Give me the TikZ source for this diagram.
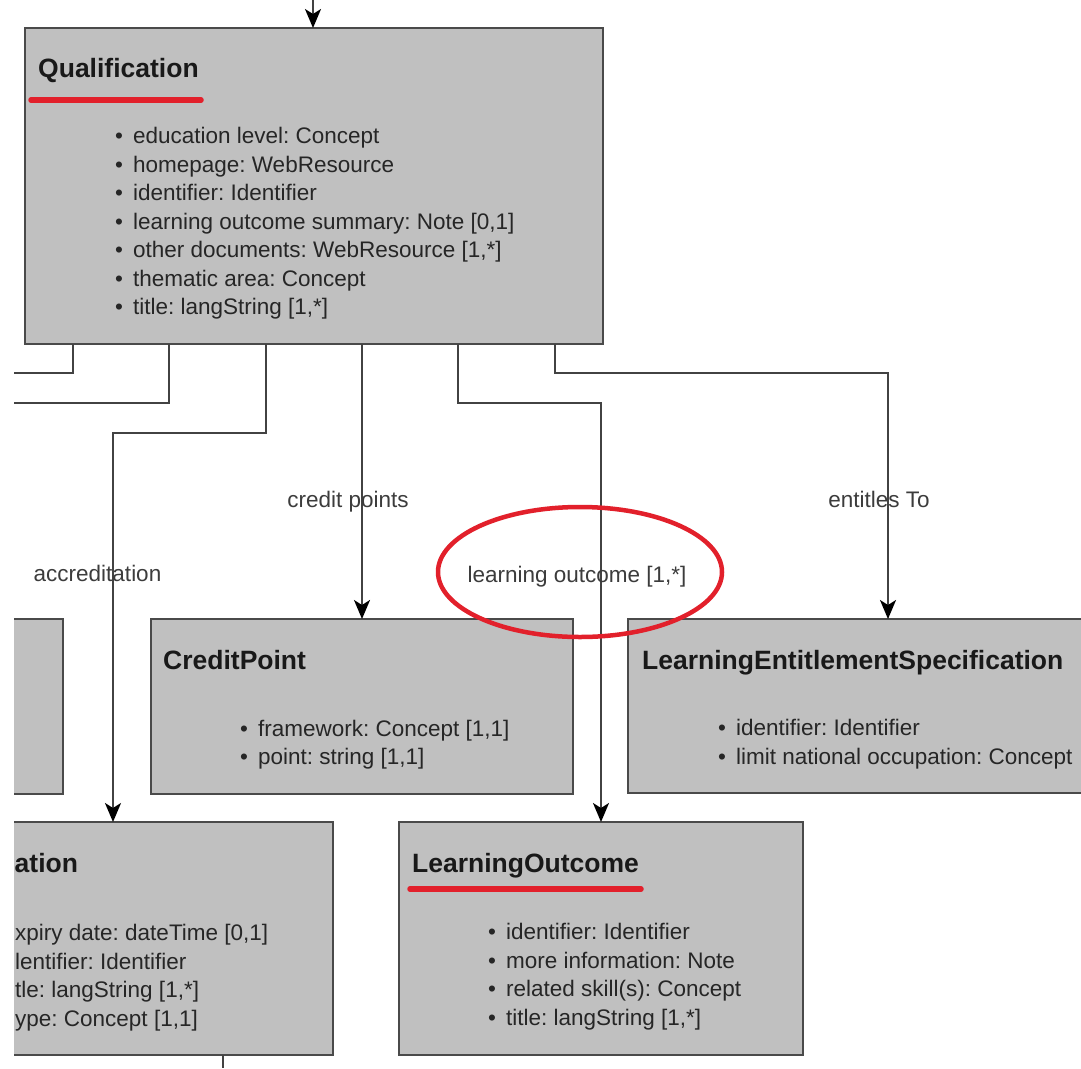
\documentclass[tikz,border=0pt]{standalone}
\usepackage{fontspec}
\setmainfont{Liberation Sans}
\usetikzlibrary{arrows.meta}
\definecolor{boxfill}{HTML}{C0C0C0}
\definecolor{boxline}{HTML}{4A4A4A}
\definecolor{linecol}{HTML}{424242}
\definecolor{markred}{HTML}{E2202B}
\definecolor{txt}{HTML}{262626}
\frenchspacing
\begin{document}
\begin{tikzpicture}[x=1pt,y=-1pt,
  cls/.style={draw=boxline, fill=boxfill, line width=2.4pt, anchor=north west, inner sep=0pt, outer sep=0pt},
  ttl/.style={anchor=base west, inner sep=0pt, font=\fontsize{26.5}{30}\selectfont\bfseries, text=black!90},
  itm/.style={anchor=base west, inner sep=0pt, font=\fontsize{22.5}{27}\selectfont, text=txt},
  lbl/.style={anchor=base, inner sep=0pt, font=\fontsize{22.5}{27}\selectfont, text=txt!90},
  conn/.style={draw=linecol, line width=2pt},
  arr/.style={conn, -{Stealth[length=19pt,width=16pt,inset=5pt,color=black]}},
  redmark/.style={draw=markred, line width=5.5pt, line cap=round},
]
\fill[white] (0,0) rectangle (1081,1068);
\useasboundingbox (0,0) rectangle (1081,1068);
\begin{scope}
\clip (14,0) rectangle (1081,1068);

% class boxes
\node[cls, minimum width=578pt, minimum height=316pt] (q) at (25,28) {};
\node[cls, minimum width=263pt, minimum height=175pt] (lft) at (-200,619) {};
\node[cls, minimum width=422pt, minimum height=175pt] (cp) at (151,619) {};
\node[cls, minimum width=520pt, minimum height=174pt] (les) at (628,619) {};
\node[cls, minimum width=440pt, minimum height=233pt] (acc) at (-107,822) {};
\node[cls, minimum width=404pt, minimum height=233pt] (lo) at (399,822) {};

% connectors
\coordinate (top) at (313,0);
\draw[arr] (top) -- (q.north -| top);
\coordinate (c1) at (73,373); \coordinate (e1) at (14,373);
\draw[conn] (q.south -| c1) |- (e1);
\coordinate (c2) at (169,403); \coordinate (e2) at (14,403);
\draw[conn] (q.south -| c2) |- (e2);
\coordinate (c3) at (266,433);
\draw[arr] (q.south -| c3) -- (c3) -| (acc.north);
\draw[arr] (q.south -| cp.north) -- (cp.north);
\coordinate (c5) at (458,403);
\draw[arr] (q.south -| c5) -- (c5) -| (lo.north);
\coordinate (c6) at (555,373);
\draw[arr] (q.south -| c6) -- (c6) -| (les.north);
\coordinate (bot) at (223,1068);
\draw[conn] (acc.south -| bot) -- (bot);
\end{scope}

% titles
\node[ttl] (qt) at (38,77.5) {Qualification};
\node[ttl] (cpt) at (163,669.5) {CreditPoint};
\node[ttl] (lest) at (642,669.5) {LearningEntitlementSpecification};
\node[ttl] (acct) at (14.5,872.5) {ation};
\node[ttl] (lot) at (412,872.5) {LearningOutcome};

% attributes
\foreach \t [count=\i] in {{education level: Concept},{homepage: WebResource},{identifier: Identifier},{learning outcome summary: Note [0,1]},{other documents: WebResource [1,*]},{thematic area: Concept},{title: langString [1,*]}}
  \node[itm] (qa\i) at (115,{143.5+28.5*(\i-1)}) {\textbullet\hspace{10pt}\t};
\foreach \t [count=\i] in {{framework: Concept [1,1]},{point: string [1,1]}}
  \node[itm] (cpa\i) at (240,{736.5+28*(\i-1)}) {\textbullet\hspace{10pt}\t};
\foreach \t [count=\i] in {{identifier: Identifier},{limit national occupation: Concept}}
  \node[itm] (lesa\i) at (718,{735.5+28.5*(\i-1)}) {\textbullet\hspace{10pt}\t};
\foreach \t [count=\i] in {{xpiry date: dateTime [0,1]},{lentifier: Identifier},{tle: langString [1,*]},{ype: Concept [1,1]}}
  \node[itm] (acca\i) at (15,{940.5+28.5*(\i-1)}) {\t};
\foreach \t [count=\i] in {{identifier: Identifier},{more information: Note},{related skill(s): Concept},{title: langString [1,*]}}
  \node[itm] (loa\i) at (488,{939.5+28.5*(\i-1)}) {\textbullet\hspace{10pt}\t};

% connector labels
\node[lbl] (l1) at (97.5,581) {accreditation};
\node[lbl] (l2) at (348,507.5) {credit points};
\node[lbl] (l3) at (577,582.5) {learning outcome [1,*]};
\node[lbl] (l4) at (879,507.5) {entitles To};

% red annotations
\draw[redmark] (31,100) -- (201,100);
\draw[redmark] (410,889) -- (641,889);
\draw[draw=markred, line width=4.5pt] (580,572) ellipse [x radius=142, y radius=65];
\end{tikzpicture}
\end{document}
